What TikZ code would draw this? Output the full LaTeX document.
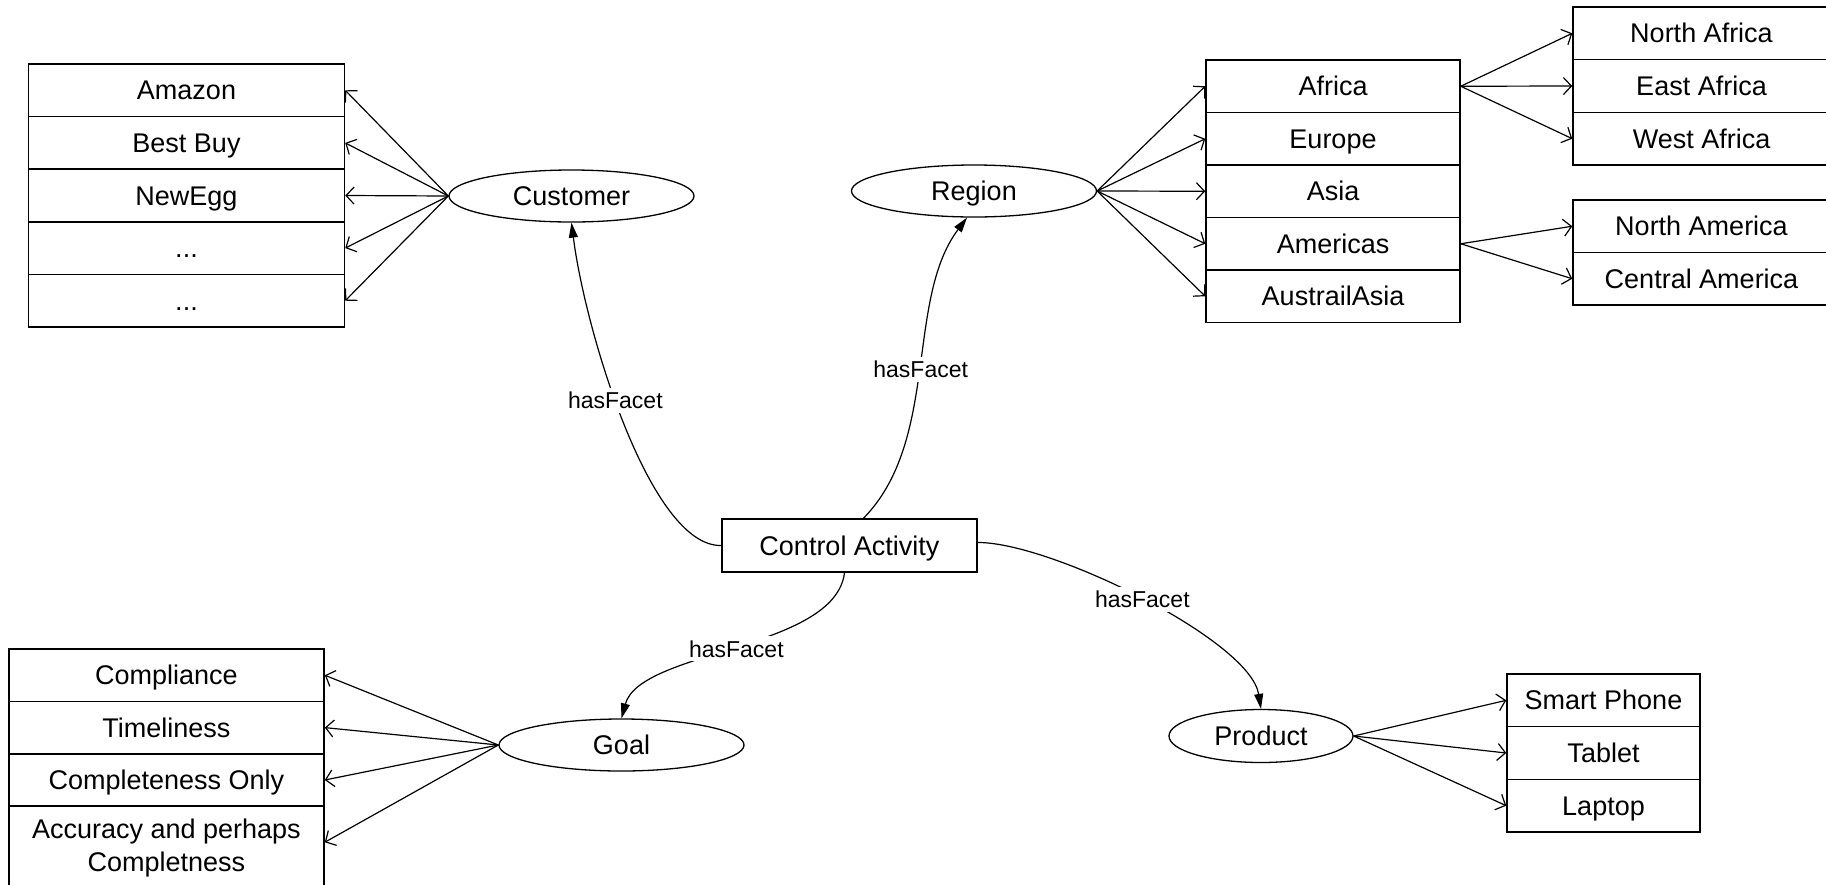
\documentclass[tikz,border=0pt]{standalone}
\usepackage{fontspec}
\setmainfont{Liberation Sans}
\usetikzlibrary{shapes.geometric,arrows.meta}
\begin{document}
\begin{tikzpicture}[x=1pt,y=-1pt,
  cellbase/.style={draw, line width=1.5pt, rectangle, inner sep=0pt,
    minimum height=52.6pt, font=\fontsize{27}{32.5}\selectfont, align=center},
  cell/.style={cellbase, text height=19.2pt, text depth=0pt},
  facet/.style={draw, ellipse, line width=1.3pt, inner sep=0pt,
    minimum width=245pt, minimum height=52pt, font=\fontsize{27}{32.5}\selectfont,
    text height=19.2pt, text depth=0pt},
  member/.style={line width=1.2pt, -{Straight Barb[length=8pt,width=17pt]}},
  hasfacet/.style={line width=1.2pt, -{Triangle[length=15pt,width=9pt]}},
  lab/.style={fill=white, inner sep=4pt, font=\fontsize{23}{27}\selectfont}
]
\useasboundingbox (0,0) rectangle (1826,884);

% central activity
\node[cell, minimum width=255pt, minimum height=53pt] (ca) at (849.5,545.5) {Control Activity};

% facets
\node[facet] (cust) at (571.5,196) {Customer};
\node[facet] (reg) at (974,191) {Region};
\node[facet] (goal) at (621.5,745) {Goal};
\node[facet, minimum width=184pt, minimum height=53pt] (prod) at (1261,736) {Product};

% customers
\begin{scope}[every node/.style={cell, minimum width=316pt}]
\node (c1) at (186.5,90.3) {Amazon};
\node (c2) at (186.5,142.9) {Best Buy};
\node (c3) at (186.5,195.5) {NewEgg};
\node (c4) at (186.5,248.1) {...};
\node (c5) at (186.5,300.7) {...};
\end{scope}

% regions
\begin{scope}[every node/.style={cell, minimum width=254pt, minimum height=52.5pt}]
\node (r1) at (1333,86.25) {Africa};
\node (r2) at (1333,138.75) {Europe};
\node (r3) at (1333,191.25) {Asia};
\node (r4) at (1333,243.75) {Americas};
\node (r5) at (1333,296.25) {AustrailAsia};
\end{scope}

% sub-regions
\begin{scope}[every node/.style={cell, minimum width=257pt, minimum height=52.7pt}]
\node (af1) at (1701.5,33.3) {North Africa};
\node (af2) at (1701.5,86) {East Africa};
\node (af3) at (1701.5,138.7) {West Africa};
\node (am1) at (1701.5,226.25) {North America};
\node (am2) at (1701.5,278.75) {Central America};
\end{scope}

% goals
\begin{scope}[every node/.style={cell, minimum width=315.3pt, minimum height=52.4pt}]
\node (g1) at (166.4,675.2) {Compliance};
\node (g2) at (166.4,727.6) {Timeliness};
\node (g3) at (166.4,780) {Completeness Only};
\end{scope}
\node[cellbase, minimum width=315.3pt, minimum height=84pt] (g4) at (166.4,848) {Accuracy and perhaps\\Completness};

% products
\begin{scope}[every node/.style={cell, minimum width=193pt, minimum height=52.7pt}]
\node (p1) at (1603.5,700.3) {Smart Phone};
\node (p2) at (1603.5,753) {Tablet};
\node (p3) at (1603.5,805.7) {Laptop};
\end{scope}

% facet edges
\draw[hasfacet] (ca.west) .. controls (650,547) and (585,330) .. (cust.south)
  node[lab, pos=0.56] {hasFacet};
\draw[hasfacet] ([xshift=14pt]ca.north) .. controls (940,440) and (905,300) .. ([xshift=-7pt]reg.south)
  node[lab, pos=0.5] {hasFacet};
\draw[hasfacet] ([xshift=-5pt]ca.south) .. controls (835,650) and (640,650) .. (goal.north)
  node[lab, pos=0.5] {hasFacet};
\draw[hasfacet] ([yshift=3pt]ca.east) .. controls (1050,542) and (1250,640) .. (prod.north)
  node[lab, pos=0.5] {hasFacet};

% members
\foreach \n in {c1,c2,c3,c4,c5} \draw[member] (cust.west) -- (\n.east);
\foreach \n in {r1,r2,r3,r4,r5} \draw[member] (reg.east) -- (\n.west);
\foreach \n in {af1,af2,af3} \draw[member] (r1.east) -- (\n.west);
\foreach \n in {am1,am2} \draw[member] (r4.east) -- (\n.west);
\foreach \n in {g1,g2,g3} \draw[member] (goal.west) -- (\n.east);
\draw[member] (goal.west) -- ([yshift=-37pt]g4.north east);
\foreach \n in {p1,p2,p3} \draw[member] (prod.east) -- (\n.west);
\end{tikzpicture}
\end{document}
